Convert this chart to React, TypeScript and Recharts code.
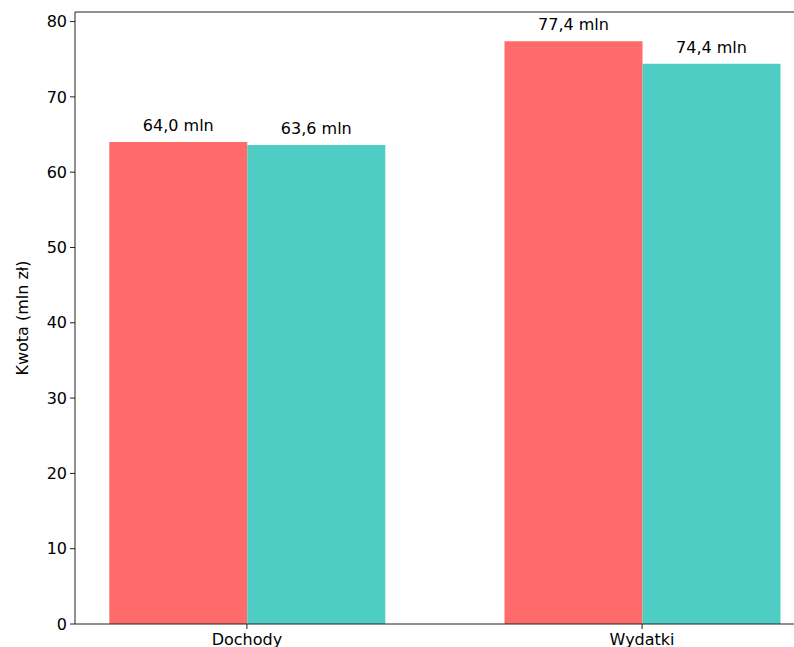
import React from 'react';
import { BarChart, Bar, XAxis, YAxis, LabelList, ReferenceLine } from 'recharts';

const categories = ['Dochody', 'Wydatki'];
const seriesA = [64.0, 77.4];
const seriesB = [63.6, 74.4];
const yTicks = [0, 10, 20, 30, 40, 50, 60, 70, 80];

const data = categories.map((name, i) => ({ x: i, name, a: seriesA[i], b: seriesB[i] }));

const FONT = '"DejaVu Sans", sans-serif';
const fmt = (v: number) => `${v.toFixed(1).replace('.', ',')} mln`;

export default function App() {
  return (
    <div style={{ position: 'fixed', left: 0, top: 0, width: 794, height: 647, overflow: 'hidden', background: '#fff' }}>
      <BarChart
        width={830}
        height={670}
        data={data}
        margin={{ top: 12, right: 16, bottom: 16, left: 0 }}
        barGap={0}
        style={{ fontFamily: FONT }}
      >
        <XAxis
          dataKey="x"
          type="number"
          domain={[-0.435, 1.435]}
          ticks={[0, 1]}
          tickFormatter={(v: number) => categories[v] ?? ''}
          allowDataOverflow
          height={30}
          tickSize={5}
          tickMargin={5}
          stroke="#222"
          tick={{ fill: '#000', fontSize: 16, fontFamily: FONT }}
        />
        <YAxis
          type="number"
          domain={[0, 81.27]}
          ticks={yTicks}
          allowDataOverflow
          width={75}
          tickSize={5}
          tickMargin={3}
          stroke="#222"
          tick={{ fill: '#000', fontSize: 16, fontFamily: FONT }}
          label={{ value: 'Kwota (mln zł)', angle: -90, position: 'insideLeft', offset: 22, style: { textAnchor: 'middle', fill: '#000', fontSize: 16, fontFamily: FONT } }}
        />
        <ReferenceLine y={81.27} stroke="#222" ifOverflow="extendDomain" />
        <Bar dataKey="a" fill="#FF6B6B" barSize={138} isAnimationActive={false}>
          <LabelList dataKey="a" position="top" offset={11} formatter={(v: number) => fmt(v)} style={{ fill: '#000', fontSize: 16, fontFamily: FONT }} />
        </Bar>
        <Bar dataKey="b" fill="#4ECDC4" barSize={138} isAnimationActive={false}>
          <LabelList dataKey="b" position="top" offset={11} formatter={(v: number) => fmt(v)} style={{ fill: '#000', fontSize: 16, fontFamily: FONT }} />
        </Bar>
      </BarChart>
    </div>
  );
}
